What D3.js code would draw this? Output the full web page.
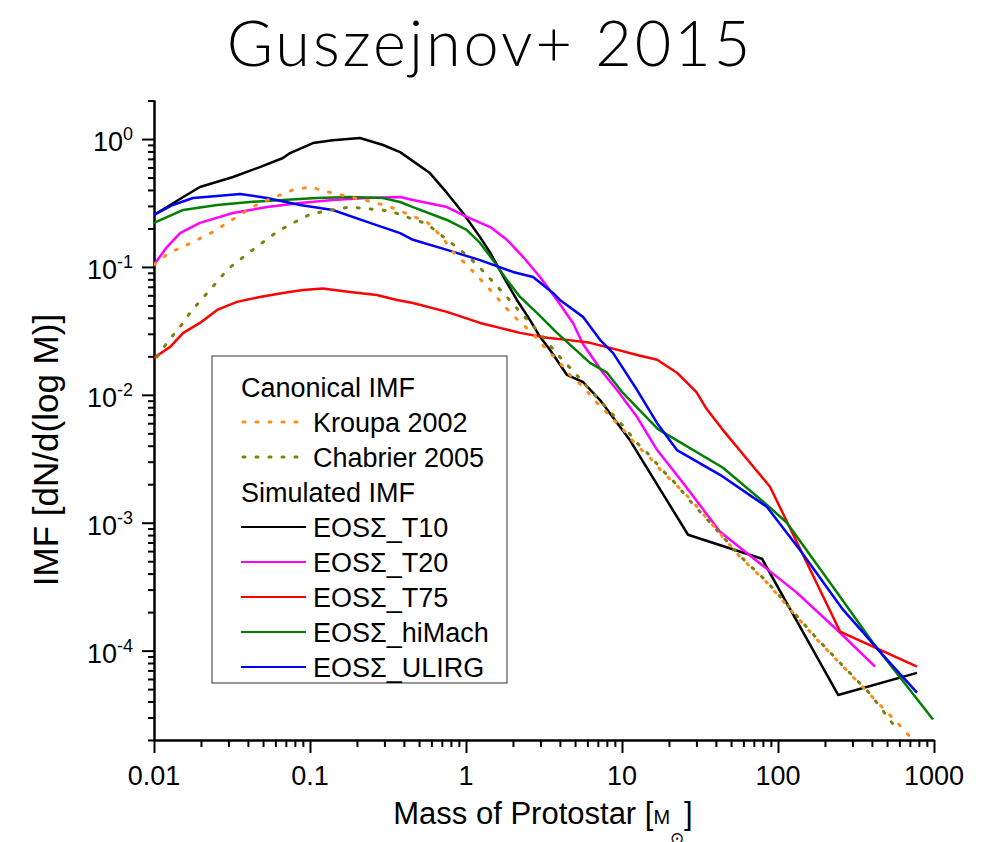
<!DOCTYPE html>
<html lang="en">
<head>
<meta charset="utf-8">
<script src="https://d3js.org/d3.v7.min.js"></script>
<style>
    body { margin: 0; background: #fff; }
    svg text { font-family: 'Liberation Sans', Arial, sans-serif; fill: #000; }
</style>
</head>
<body>
<script>
    // ---- data: [mass in Msun, dN/dlogM] ----
    var kroupa = [[0.01,0.104],[0.0125,0.129],[0.0163,0.149],[0.0239,0.188],[0.0372,0.264],[0.0477,0.316],
        [0.0778,0.40],[0.1,0.422],[0.138,0.379],[0.18,0.352],[0.254,0.322],[0.34,0.289],[0.4375,0.255],
        [0.562,0.225],[0.70,0.172],[0.826,0.131],[1.01,0.104],[1.23,0.0806],[1.47,0.0638],[1.78,0.0487],
        [2.15,0.0385],[2.65,0.0305],[3.30,0.0225],[4.0,0.0178],[4.64,0.0143],[5.62,0.0116],[6.92,0.00866],
        [8.38,0.00685],[10.2,0.00533],[12.5,0.0040],[15.1,0.00322],[18.3,0.00246],[22.5,0.00195],
        [27.3,0.00154],[39.5,0.000914],[57,0.000542],[85,0.00034],[125,0.000198],[178,0.000122],
        [261,7.5e-5],[389,4.53e-5],[580,2.74e-5],[700,2.13e-5]];

    var chabrier = [[0.01045,0.0198],[0.0125,0.0269],[0.0147,0.034],[0.017,0.0437],[0.0203,0.0562],
        [0.025,0.075],[0.0298,0.0965],[0.0395,0.126],[0.0492,0.154],[0.0614,0.188],[0.0778,0.221],
        [0.1015,0.26],[0.138,0.279],[0.18,0.294],[0.242,0.284],[0.326,0.274],[0.4375,0.241],[0.562,0.217],
        [0.652,0.188],[0.789,0.157],[1.01,0.124],[1.23,0.0983],[1.49,0.0763],[1.78,0.0604],[2.22,0.0445],
        [2.69,0.0346],[3.30,0.026],[3.89,0.0205],[4.64,0.0163],[5.62,0.0126],[6.92,0.0095],[8.38,0.0074],
        [10.2,0.0057],[12.5,0.0042],[14.7,0.00346],[18.3,0.00255],[22.5,0.00198],[26.5,0.00154],
        [39.5,0.00091],[57,0.00055],[85,0.000346],[125,0.000202],[178,0.000124],[261,7.6e-5],
        [389,4.6e-5],[587,2.37e-5]];

    var t10 = [[0.01,0.255],[0.0154,0.352],[0.0197,0.422],[0.0321,0.505],[0.0477,0.604],[0.0671,0.711],
        [0.0745,0.777],[0.1045,0.93],[0.14,0.98],[0.209,1.02],[0.294,0.898],[0.378,0.79],[0.587,0.542],
        [0.755,0.379],[0.957,0.264],[1.23,0.171],[1.43,0.129],[1.83,0.075],[2.12,0.0552],[2.57,0.0386],
        [2.98,0.0284],[3.45,0.0225],[4.44,0.0143],[5.62,0.0126],[7.23,0.0091],[11.2,0.00445],
        [26.5,0.000805],[78.9,0.000523],[243,4.5e-5],[778,6.7e-5]];

    var t20 = [[0.01,0.104],[0.0121,0.143],[0.0147,0.184],[0.0197,0.221],[0.0321,0.264],[0.053,0.294],
        [0.0863,0.316],[0.14,0.334],[0.232,0.346],[0.378,0.352],[0.457,0.334],[0.755,0.294],[1.01,0.246],
        [1.43,0.205],[1.83,0.163],[2.32,0.12],[2.98,0.0835],[3.83,0.0552],[4.85,0.0365],[5.62,0.025],
        [7.55,0.0149],[9.29,0.0109],[12.5,0.0067],[16.8,0.0037],[24.6,0.00205],[42.5,0.00085],
        [132,0.000284],[250,0.000138],[419,7.5e-5]];

    var t75 = [[0.01,0.0195],[0.0127,0.0237],[0.0154,0.0305],[0.0197,0.0365],[0.0254,0.0461],[0.034,0.0533],
        [0.0477,0.0583],[0.0671,0.0626],[0.0902,0.0661],[0.121,0.0678],[0.18,0.0638],[0.268,0.0604],
        [0.361,0.0552],[0.457,0.0523],[0.755,0.0445],[1.23,0.0365],[1.65,0.0334],[2.22,0.0305],
        [3.31,0.0279],[4.44,0.0269],[6.24,0.0255],[8.38,0.0233],[12.5,0.0205],[16.8,0.0188],[22.5,0.0149],
        [30,0.0105],[35,0.0077],[44.4,0.0053],[66.2,0.00294],[88.9,0.00191],[250,0.000141],[778,7.5e-5]];

    var hiMach = [[0.01,0.221],[0.0154,0.279],[0.0254,0.305],[0.0412,0.322],[0.0671,0.334],[0.111,0.346],
        [0.18,0.352],[0.294,0.346],[0.378,0.322],[0.457,0.294],[0.755,0.233],[1.01,0.195],[1.23,0.154],
        [1.49,0.113],[1.83,0.0792],[2.22,0.0583],[2.85,0.0437],[3.83,0.0305],[6.24,0.0178],[8.02,0.0149],
        [10.1,0.0104],[17,0.0054],[44.4,0.00269],[84.9,0.00138],[114,0.001],[225,0.000316],
        [406,0.000115],[986,2.89e-5]];

    var ulirg = [[0.01,0.255],[0.0132,0.305],[0.0178,0.346],[0.0254,0.359],[0.0356,0.372],[0.053,0.346],
        [0.0863,0.305],[0.14,0.279],[0.232,0.225],[0.378,0.184],[0.457,0.163],[0.755,0.136],[1.23,0.113],
        [2.0,0.0914],[2.69,0.0835],[3.61,0.0626],[4.0,0.0552],[5.62,0.0407],[7.23,0.0269],[8.75,0.0213],
        [12.5,0.0109],[16.8,0.006],[22.5,0.0037],[42.5,0.00237],[84.9,0.00133],[138,0.000615],
        [261,0.000209],[500,8.5e-5],[778,4.7e-5]];

    var xMajor = [0.01, 0.1, 1, 10, 100, 1000];
    var xLabels = ['0.01', '0.1', '1', '10', '100', '1000'];
    var yMajor = [1e-4, 1e-3, 1e-2, 1e-1, 1];
    var yExps = ['-4', '-3', '-2', '-1', '0'];

    var simNames = ['EOS\u03A3_T10', 'EOS\u03A3_T20', 'EOS\u03A3_T75', 'EOS\u03A3_hiMach', 'EOS\u03A3_ULIRG'];
    var simColors = ['#000000', '#ff00ff', '#ff0000', '#008000', '#0000ff'];
    var simData = [t10, t20, t75, hiMach, ulirg];
    var canNames = ['Kroupa 2002', 'Chabrier 2005'];
    var canColors = ['#ff8c1a', '#808010'];
    var canData = [kroupa, chabrier];

    var width = 999, height = 842;
    var plotL = 154, plotR = 934, plotT = 100, plotB = 740;

    var svg = d3.select('body').append('svg').attr('width', width).attr('height', height);

    var x = d3.scaleLog().domain([0.01, 1000]).range([plotL, plotR]);
    var y = d3.scaleLog().domain([2e-5, 2.02]).range([plotB, plotT]);

    // title
    svg.append('text')
        .attr('x', 490).attr('y', 66)
        .attr('text-anchor', 'middle')
        .style('font-family', "Lato, 'Open Sans', sans-serif")
        .style('font-weight', 300)
        .style('font-size', '63px')
        .style('letter-spacing', '3px')
        .text('Guszejnov+ 2015');

    // minor tick values
    var xMinor = [], yMinor = [];
    for (var e = -2; e < 3; e++) for (var k = 2; k < 10; k++) xMinor.push(k * Math.pow(10, e));
    for (var e2 = -5; e2 < 1; e2++) for (var k2 = 2; k2 < 10; k2++) {
        var v = k2 * Math.pow(10, e2);
        if (v >= 1.99e-5 && v <= 2.03) yMinor.push(v);
    }

    function styleAxis(g) {
        g.selectAll('path').attr('stroke', '#000').attr('stroke-width', 2);
        g.selectAll('line').attr('stroke', '#000').attr('stroke-width', 2);
    }

    svg.append('g').attr('transform', 'translate(0,' + plotB + ')')
        .call(d3.axisBottom(x).tickValues(xMinor).tickSize(7).tickSizeOuter(0).tickFormat(''))
        .call(styleAxis);
    svg.append('g').attr('transform', 'translate(0,' + plotB + ')')
        .call(d3.axisBottom(x).tickValues(xMajor).tickSize(13).tickSizeOuter(0).tickFormat(''))
        .call(styleAxis);
    svg.append('g').attr('transform', 'translate(' + plotL + ',0)')
        .call(d3.axisLeft(y).tickValues(yMinor).tickSize(6).tickSizeOuter(0).tickFormat(''))
        .call(styleAxis);
    svg.append('g').attr('transform', 'translate(' + plotL + ',0)')
        .call(d3.axisLeft(y).tickValues(yMajor).tickSize(12).tickSizeOuter(0).tickFormat(''))
        .call(styleAxis);

    // tick labels
    svg.selectAll('.xlab').data(xMajor).join('text')
        .attr('class', 'xlab')
        .attr('x', function(d) { return x(d); })
        .attr('y', 785)
        .attr('text-anchor', 'middle')
        .style('font-size', '27px')
        .text(function(d, i) { return xLabels[i]; });

    var yl = svg.selectAll('.ylab').data(yMajor).join('text')
        .attr('class', 'ylab')
        .attr('x', 133)
        .attr('y', function(d) { return y(d) + 12; })
        .attr('text-anchor', 'end')
        .style('font-size', '27px');
    yl.append('tspan').text('10');
    yl.append('tspan').attr('dy', -11).style('font-size', '18px').text(function(d, i) { return yExps[i]; });

    // axis titles
    var xt = svg.append('text').attr('x', 543).attr('y', 824).attr('text-anchor', 'middle')
        .style('font-size', '31px');
    xt.append('tspan').text('Mass of Protostar [');
    xt.append('tspan').style('font-size', '20px').text('M');
    xt.append('tspan').attr('dy', 20).style('font-size', '17px').text('\u2299');
    xt.append('tspan').attr('dy', -20).text(']');

    svg.append('text')
        .attr('transform', 'translate(58,450) rotate(-90)')
        .attr('text-anchor', 'middle')
        .style('font-size', '35px')
        .text('IMF [dN/d(log M)]');

    // curves
    svg.append('clipPath').attr('id', 'plotclip').append('rect')
        .attr('x', plotL).attr('y', plotT).attr('width', plotR - plotL + 2).attr('height', plotB - plotT);

    var line = d3.line()
        .x(function(d) { return x(d[0]); })
        .y(function(d) { return y(d[1]); });

    var plot = svg.append('g').attr('clip-path', 'url(#plotclip)');

    plot.selectAll('.sim').data(simData).join('path')
        .attr('class', 'sim')
        .attr('d', line)
        .attr('fill', 'none')
        .attr('stroke', function(d, i) { return simColors[i]; })
        .attr('stroke-width', 2.5)
        .attr('stroke-linejoin', 'round');

    plot.selectAll('.can').data(canData).join('path')
        .attr('class', 'can')
        .attr('d', line)
        .attr('fill', 'none')
        .attr('stroke', function(d, i) { return canColors[i]; })
        .attr('stroke-width', 3)
        .attr('stroke-linecap', 'round')
        .attr('stroke-dasharray', '2,11');

    // legend
    var lg = svg.append('g');
    lg.append('rect').attr('x', 212).attr('y', 356).attr('width', 295).attr('height', 327)
        .attr('fill', '#fff').attr('stroke', '#555').attr('stroke-width', 1.2);

    var rowH = 35, row0 = 387;
    lg.append('text').attr('x', 241).attr('y', row0 + 10).style('font-size', '27px').text('Canonical IMF');
    canNames.forEach(function(n, i) {
        var cy = row0 + rowH * (i + 1);
        lg.append('line').attr('x1', 243).attr('x2', 304).attr('y1', cy).attr('y2', cy)
            .attr('stroke', canColors[i]).attr('stroke-width', 3)
            .attr('stroke-linecap', 'round').attr('stroke-dasharray', '2,11');
        lg.append('text').attr('x', 313).attr('y', cy + 10).style('font-size', '27px').text(n);
    });
    lg.append('text').attr('x', 241).attr('y', row0 + rowH * 3 + 10).style('font-size', '27px').text('Simulated IMF');
    simNames.forEach(function(n, i) {
        var cy = row0 + rowH * (i + 4);
        lg.append('line').attr('x1', 241).attr('x2', 306).attr('y1', cy).attr('y2', cy)
            .attr('stroke', simColors[i]).attr('stroke-width', 2);
        lg.append('text').attr('x', 313).attr('y', cy + 10).style('font-size', '27px').text(n);
    });
</script>
</body>
</html>
